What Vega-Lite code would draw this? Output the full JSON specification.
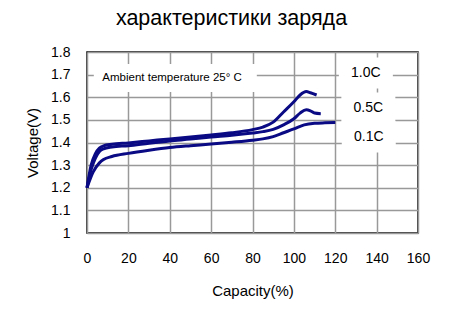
{
  "$schema": "https://vega.github.io/schema/vega-lite/v6.json",
  "autosize": {"type": "none"},
  "padding": {"left": 87, "top": 52, "right": 42, "bottom": 83},
  "width": 331,
  "height": 181,
  "background": "white",
  "title": {"text": "характеристики заряда", "font": "Liberation Sans", "fontSize": 21.5, "fontWeight": "normal", "color": "#000", "anchor": "middle", "dx": -21, "offset": 16},
  "datasets": {
    "curves": [
      {"rate": "1.0C", "cap": 0, "v": 1.2},
      {"rate": "1.0C", "cap": 2, "v": 1.3},
      {"rate": "1.0C", "cap": 4, "v": 1.35},
      {"rate": "1.0C", "cap": 6, "v": 1.375},
      {"rate": "1.0C", "cap": 8, "v": 1.385},
      {"rate": "1.0C", "cap": 12, "v": 1.392},
      {"rate": "1.0C", "cap": 20, "v": 1.398},
      {"rate": "1.0C", "cap": 30, "v": 1.407},
      {"rate": "1.0C", "cap": 40, "v": 1.416},
      {"rate": "1.0C", "cap": 50, "v": 1.424},
      {"rate": "1.0C", "cap": 60, "v": 1.433},
      {"rate": "1.0C", "cap": 70, "v": 1.443},
      {"rate": "1.0C", "cap": 80, "v": 1.457},
      {"rate": "1.0C", "cap": 85, "v": 1.468},
      {"rate": "1.0C", "cap": 90, "v": 1.49},
      {"rate": "1.0C", "cap": 95, "v": 1.535},
      {"rate": "1.0C", "cap": 100, "v": 1.58},
      {"rate": "1.0C", "cap": 103, "v": 1.61},
      {"rate": "1.0C", "cap": 106, "v": 1.625},
      {"rate": "1.0C", "cap": 108, "v": 1.62},
      {"rate": "1.0C", "cap": 111, "v": 1.61},
      {"rate": "0.5C", "cap": 0, "v": 1.2},
      {"rate": "0.5C", "cap": 2, "v": 1.28},
      {"rate": "0.5C", "cap": 4, "v": 1.33},
      {"rate": "0.5C", "cap": 6, "v": 1.36},
      {"rate": "0.5C", "cap": 8, "v": 1.372},
      {"rate": "0.5C", "cap": 12, "v": 1.38},
      {"rate": "0.5C", "cap": 20, "v": 1.386},
      {"rate": "0.5C", "cap": 30, "v": 1.397},
      {"rate": "0.5C", "cap": 40, "v": 1.407},
      {"rate": "0.5C", "cap": 50, "v": 1.415},
      {"rate": "0.5C", "cap": 60, "v": 1.424},
      {"rate": "0.5C", "cap": 70, "v": 1.432},
      {"rate": "0.5C", "cap": 80, "v": 1.442},
      {"rate": "0.5C", "cap": 85, "v": 1.448},
      {"rate": "0.5C", "cap": 90, "v": 1.458},
      {"rate": "0.5C", "cap": 95, "v": 1.478},
      {"rate": "0.5C", "cap": 100, "v": 1.505},
      {"rate": "0.5C", "cap": 103, "v": 1.53},
      {"rate": "0.5C", "cap": 106, "v": 1.545},
      {"rate": "0.5C", "cap": 108, "v": 1.54},
      {"rate": "0.5C", "cap": 110, "v": 1.53},
      {"rate": "0.5C", "cap": 113, "v": 1.527},
      {"rate": "0.1C", "cap": 0, "v": 1.2},
      {"rate": "0.1C", "cap": 3, "v": 1.27},
      {"rate": "0.1C", "cap": 6, "v": 1.31},
      {"rate": "0.1C", "cap": 8, "v": 1.325},
      {"rate": "0.1C", "cap": 12, "v": 1.338},
      {"rate": "0.1C", "cap": 20, "v": 1.352},
      {"rate": "0.1C", "cap": 30, "v": 1.366},
      {"rate": "0.1C", "cap": 40, "v": 1.378},
      {"rate": "0.1C", "cap": 50, "v": 1.386},
      {"rate": "0.1C", "cap": 60, "v": 1.393},
      {"rate": "0.1C", "cap": 70, "v": 1.401},
      {"rate": "0.1C", "cap": 80, "v": 1.41},
      {"rate": "0.1C", "cap": 85, "v": 1.416},
      {"rate": "0.1C", "cap": 90, "v": 1.426},
      {"rate": "0.1C", "cap": 95, "v": 1.443},
      {"rate": "0.1C", "cap": 100, "v": 1.46},
      {"rate": "0.1C", "cap": 105, "v": 1.478},
      {"rate": "0.1C", "cap": 110, "v": 1.485},
      {"rate": "0.1C", "cap": 115, "v": 1.487},
      {"rate": "0.1C", "cap": 120, "v": 1.488}
    ],
    "labels": [
      {"text": "1.0C", "cap": 134.8, "v": 1.707},
      {"text": "0.5C", "cap": 136, "v": 1.552},
      {"text": "0.1C", "cap": 136.2, "v": 1.424}
    ],
    "note": [
      {"text": "Ambient temperature 25°  C", "cap": 7.4, "v": 1.685}
    ]
  },
  "layer": [
    {
      "data": {"name": "curves"},
      "mark": {"type": "line", "strokeWidth": 3, "color": "#0a0a84", "interpolate": "monotone"},
      "encoding": {
        "x": {"field": "cap", "type": "quantitative", "scale": {"domain": [0, 160], "nice": false}, "title": "Capacity(%)"},
        "y": {"field": "v", "type": "quantitative", "scale": {"domain": [1, 1.8], "nice": false, "zero": false}, "title": "Voltage(V)"},
        "detail": {"field": "rate"}
      }
    },
    {
      "data": {"name": "labels"},
      "mark": {"type": "point", "filled": true, "fill": "white", "opacity": 1, "strokeWidth": 0, "shape": "M-1,-0.574H1V0.574H-1Z", "size": 2916},
      "encoding": {
        "x": {"field": "cap", "type": "quantitative"},
        "y": {"field": "v", "type": "quantitative"}
      }
    },
    {
      "data": {"name": "note"},
      "mark": {"type": "point", "filled": true, "fill": "white", "opacity": 1, "strokeWidth": 0, "shape": "M-1,-0.172H1V0.172H-1Z", "size": 26569, "xOffset": 73},
      "encoding": {
        "x": {"field": "cap", "type": "quantitative"},
        "y": {"field": "v", "type": "quantitative"}
      }
    },
    {
      "data": {"name": "labels"},
      "mark": {"type": "text", "font": "Liberation Sans", "fontSize": 14, "color": "#000", "align": "center", "baseline": "middle"},
      "encoding": {
        "x": {"field": "cap", "type": "quantitative"},
        "y": {"field": "v", "type": "quantitative"},
        "text": {"field": "text"}
      }
    },
    {
      "data": {"name": "note"},
      "mark": {"type": "text", "font": "Liberation Sans", "fontSize": 11.5, "color": "#000", "align": "left", "baseline": "middle"},
      "encoding": {
        "x": {"field": "cap", "type": "quantitative"},
        "y": {"field": "v", "type": "quantitative"},
        "text": {"field": "text"}
      }
    }
  ],
  "config": {
    "view": {"stroke": "#000", "strokeWidth": 1.5},
    "axis": {"grid": true, "gridColor": "#999999", "gridWidth": 1.5, "gridOpacity": 1, "ticks": false, "domain": false, "labelFlush": false, "labelOverlap": false, "labelFontSize": 14, "labelFont": "Liberation Sans", "labelColor": "#000", "titleFont": "Liberation Sans", "titleFontSize": 15, "titleFontWeight": "normal", "titleColor": "#000"},
    "axisX": {"tickCount": 8, "labelPadding": 18, "titlePadding": 18},
    "axisY": {"tickCount": 8, "format": ".1~f", "labelPadding": 17, "titlePadding": 10}
  }
}
